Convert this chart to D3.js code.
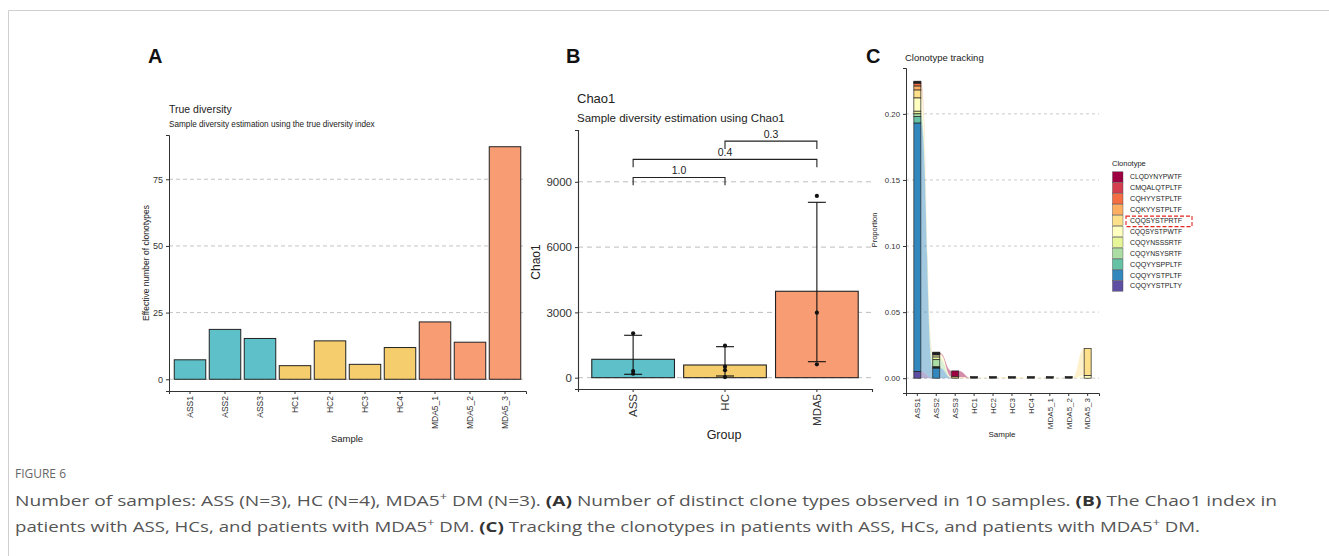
<!DOCTYPE html>
<html><head><meta charset="utf-8">
<script src="https://cdn.jsdelivr.net/npm/d3@7"></script>
<style>
body{margin:0;background:#fff}
svg{display:block}
text{font-family:"Liberation Sans", Arimo, Arial, Helvetica, sans-serif}
</style>
</head><body>
<svg id="c" width="1329" height="556"></svg>
<script>
// ---------------- data ----------------
const samples = ["ASS1","ASS2","ASS3","HC1","HC2","HC3","HC4","MDA5_1","MDA5_2","MDA5_3"];
const sampleGroup = ["ASS","ASS","ASS","HC","HC","HC","HC","MDA5","MDA5","MDA5"];
const trueDiversity = [7.3, 18.7, 15.3, 5.1, 14.4, 5.6, 11.9, 21.5, 13.9, 87.2];
const diversityTicks = [0, 25, 50, 75];

const groups = ["ASS","HC","MDA5"];
const groupColors = ["#5ec1ca","#f6cd6c","#f89c74"];
const chao1Mean = [845, 583, 3970];
const chao1Low = [156, 78, 735];
const chao1High = [1948, 1424, 8058];
const chao1Points = [[2040, 308, 180], [1470, 505, 345, 30], [8350, 2986, 615]];
const chao1Ticks = [0, 3000, 6000, 9000];
const pFrom = ["ASS","ASS","HC"];
const pTo = ["HC","MDA5","MDA5"];
const pLabels = ["1.0","0.4","0.3"];
const pLevel = [9200, 10030, 10870];
const pTip = 360;

const clonotypes = ["CLQDYNYPWTF","CMQALQTPLTF","CQHYYSTPLTF","CQKYYSTPLTF","CQQSYSTPRTF","CQQSYSTPWTF",
  "CQQYNSSSRTF","CQQYNSYSRTF","CQQYYSPPLTF","CQQYYSTPLTF","CQQYYSTPLTY"];
// proportion of each clonotype (rows, legend order) in each sample (columns, samples order)
const proportions = [
  [0.0005, 0.0005, 0.0045, 0, 0, 0, 0, 0, 0, 0],
  [0.0005, 0, 0, 0, 0, 0, 0, 0, 0, 0],
  [0.002, 0, 0, 0, 0, 0, 0, 0, 0, 0],
  [0.003, 0.0005, 0, 0, 0, 0, 0, 0, 0, 0],
  [0.006, 0.0005, 0.001, 0.0004, 0.0004, 0.0008, 0.0004, 0.0004, 0.0004, 0.0205],
  [0.010, 0.0015, 0, 0, 0, 0, 0, 0, 0, 0.002],
  [0.002, 0.002, 0, 0, 0, 0, 0, 0, 0, 0],
  [0.002, 0.006, 0, 0, 0, 0, 0, 0, 0, 0],
  [0.005, 0.0005, 0, 0, 0, 0, 0, 0, 0, 0],
  [0.188, 0.0075, 0, 0, 0, 0, 0, 0, 0, 0],
  [0.005, 0, 0, 0, 0, 0, 0, 0, 0, 0]
];
const proportionTicks = [0, 0.05, 0.10, 0.15, 0.20];
const highlighted = "CQQSYSTPRTF";

// ---------------- drawing ----------------
const svg = d3.select("#c");
const gridCol = "#bdbdbd", axisCol = "#333", txtCol = "#333";

// figure frame
svg.append("line").attr("x1",8.5).attr("x2",1329).attr("y1",10.5).attr("y2",10.5).attr("stroke","#cfcfcf");
svg.append("line").attr("x1",8.5).attr("x2",8.5).attr("y1",10.5).attr("y2",556).attr("stroke","#cfcfcf");

const colorOfGroup = d3.scaleOrdinal().domain(groups).range(groupColors);

function panelLetter(t, x, y){
  svg.append("text").attr("x",x).attr("y",y).attr("font-size",20).attr("font-weight","bold").attr("fill","#111").text(t);
}
function styleAxis(g){
  g.attr("font-family",null);
  g.select(".domain").attr("stroke",axisCol);
  g.selectAll(".tick line").attr("stroke",axisCol);
  g.selectAll(".tick text").attr("fill",txtCol);
}
function rotateLabels(g){
  g.selectAll(".tick text").attr("transform","rotate(-90)").attr("text-anchor","end")
    .attr("x",-5).attr("y",0).attr("dy","0.35em");
}

// ===== Panel A =====
panelLetter("A", 148, 63);
{
  const x = d3.scaleBand().domain(samples).range([169, 526]).paddingInner(0.1).paddingOuter(0.15);
  const y = d3.scaleLinear().domain([-4.4, 91.6]).range([391, 135]);
  const g = svg.append("g");
  g.selectAll("line.grid").data(diversityTicks).join("line")
    .attr("x1",169).attr("x2",526).attr("y1",d=>y(d)).attr("y2",d=>y(d))
    .attr("stroke",gridCol).attr("stroke-dasharray","4,3").attr("stroke-width",0.9);
  g.selectAll("rect").data(samples).join("rect")
    .attr("x",d=>x(d)).attr("width",x.bandwidth())
    .attr("y",(d,i)=>y(trueDiversity[i])).attr("height",(d,i)=>y(0)-y(trueDiversity[i]))
    .attr("fill",(d,i)=>colorOfGroup(sampleGroup[i])).attr("stroke","#222").attr("stroke-width",1);
  const ax = svg.append("g").attr("transform","translate(0,391)")
    .call(d3.axisBottom(x).tickSizeOuter(0).tickSize(3)).attr("font-size",8.5);
  rotateLabels(ax); styleAxis(ax);
  const ay = svg.append("g").attr("transform","translate(169,0)")
    .call(d3.axisLeft(y).tickValues(diversityTicks).tickSizeOuter(0).tickSize(3)).attr("font-size",9);
  styleAxis(ay);
  svg.append("text").attr("x",169).attr("y",113).attr("font-size",10.5).attr("fill","#222").text("True diversity");
  svg.append("text").attr("x",169).attr("y",127).attr("font-size",8.2).attr("fill","#222")
    .text("Sample diversity estimation using the true diversity index");
  svg.append("text").attr("transform","translate(149,263) rotate(-90)").attr("text-anchor","middle")
    .attr("font-size",8.5).attr("fill","#222").text("Effective number of clonotypes");
  svg.append("text").attr("x",347).attr("y",442).attr("text-anchor","middle").attr("font-size",9.5)
    .attr("fill","#222").text("Sample");
}

// ===== Panel B =====
panelLetter("B", 566, 63);
{
  const x = d3.scaleBand().domain(groups).range([578, 872]).paddingInner(0.1).paddingOuter(0.15);
  const y = d3.scaleLinear().domain([-520, 11380]).range([389, 130]);
  const cx = d => x(d) + x.bandwidth()/2;
  const g = svg.append("g");
  g.selectAll("line.grid").data(chao1Ticks).join("line")
    .attr("x1",578).attr("x2",872).attr("y1",d=>y(d)).attr("y2",d=>y(d))
    .attr("stroke",gridCol).attr("stroke-dasharray","5,4").attr("stroke-width",1);
  g.selectAll("rect").data(groups).join("rect")
    .attr("x",d=>x(d)).attr("width",x.bandwidth())
    .attr("y",(d,i)=>y(chao1Mean[i])).attr("height",(d,i)=>y(0)-y(chao1Mean[i]))
    .attr("fill",(d,i)=>groupColors[i]).attr("stroke","#222").attr("stroke-width",1.1);
  // error bars
  groups.forEach((gr,i)=>{
    const c = cx(gr), hw = 9;
    g.append("line").attr("x1",c).attr("x2",c).attr("y1",y(chao1Low[i])).attr("y2",y(chao1High[i]))
      .attr("stroke","#111").attr("stroke-width",1.1);
    [chao1Low[i], chao1High[i]].forEach(v=>{
      g.append("line").attr("x1",c-hw).attr("x2",c+hw).attr("y1",y(v)).attr("y2",y(v))
        .attr("stroke","#111").attr("stroke-width",1.1);
    });
    g.selectAll(null).data(chao1Points[i]).join("circle")
      .attr("cx",c).attr("cy",d=>y(d)).attr("r",2.1).attr("fill","#111");
  });
  // significance brackets
  pLabels.forEach((lab,i)=>{
    const xa = cx(pFrom[i]), xb = cx(pTo[i]), yl = y(pLevel[i]), yt = y(pLevel[i]-pTip);
    g.append("path").attr("d",`M${xa},${yt}V${yl}H${xb}V${yt}`).attr("fill","none")
      .attr("stroke","#222").attr("stroke-width",1.1);
    g.append("text").attr("x",(xa+xb)/2).attr("y",yl-3).attr("text-anchor","middle")
      .attr("font-size",10.5).attr("fill","#222").text(lab);
  });
  const ax = svg.append("g").attr("transform","translate(0,389)")
    .call(d3.axisBottom(x).tickSizeOuter(0).tickSize(3)).attr("font-size",11.5);
  rotateLabels(ax); styleAxis(ax);
  ax.select(".domain").attr("stroke-width",1.1);
  const ay = svg.append("g").attr("transform","translate(578,0)")
    .call(d3.axisLeft(y).tickValues(chao1Ticks).tickFormat(d3.format("d")).tickSizeOuter(0).tickSize(3)).attr("font-size",11.5);
  styleAxis(ay);
  ay.select(".domain").attr("stroke-width",1.1);
  svg.append("text").attr("x",577).attr("y",103).attr("font-size",13).attr("fill","#222").text("Chao1");
  svg.append("text").attr("x",577).attr("y",122).attr("font-size",11.5).attr("fill","#222")
    .text("Sample diversity estimation using Chao1");
  svg.append("text").attr("transform","translate(540,262) rotate(-90)").attr("text-anchor","middle")
    .attr("font-size",12).attr("fill","#222").text("Chao1");
  svg.append("text").attr("x",724).attr("y",439).attr("text-anchor","middle").attr("font-size",12.5)
    .attr("fill","#222").text("Group");
}

// ===== Panel C =====
panelLetter("C", 866, 63);
{
  const x = d3.scaleBand().domain(samples).range([906, 1099]).paddingInner(0.63).paddingOuter(0.415);
  const y = d3.scaleLinear().domain([-0.0112, 0.2347]).range([393, 68]);
  const color = d3.scaleOrdinal().domain(clonotypes).range(d3.schemeSpectral[11]);
  const bw = x.bandwidth();
  // stacked positions: last clonotype at the bottom
  const stackPos = clonotypes.map(()=>samples.map(()=>[0,0]));
  samples.forEach((s,j)=>{
    let acc = 0;
    for (let c = clonotypes.length-1; c >= 0; c--) {
      const v = proportions[c][j];
      stackPos[c][j] = [acc, acc+v];
      acc += v;
    }
  });
  const g = svg.append("g");
  g.selectAll("line.grid").data(proportionTicks).join("line")
    .attr("x1",906).attr("x2",1099).attr("y1",d=>y(d)).attr("y2",d=>y(d))
    .attr("stroke",gridCol).attr("stroke-dasharray","3,3").attr("stroke-width",0.8);
  // flows
  const fg = g.append("g");
  for (let j = 0; j < samples.length-1; j++) {
    const xL = x(samples[j]) + bw, xR = x(samples[j+1]), xm = (xL+xR)/2;
    clonotypes.forEach((cl,c)=>{
      const v0 = proportions[c][j], v1 = proportions[c][j+1];
      if (v0 === 0 && v1 === 0) return;
      const [b0,t0] = stackPos[c][j], [b1,t1] = stackPos[c][j+1];
      const d = `M${xL},${y(t0)}C${xm},${y(t0)} ${xm},${y(t1)} ${xR},${y(t1)}`+
                `L${xR},${y(b1)}C${xm},${y(b1)} ${xm},${y(b0)} ${xL},${y(b0)}Z`;
      fg.append("path").attr("d",d).attr("fill",color(cl)).attr("fill-opacity",0.45);
    });
  }
  // strata
  samples.forEach((s,j)=>{
    clonotypes.forEach((cl,c)=>{
      const v = proportions[c][j];
      if (v === 0) return;
      const [b,t] = stackPos[c][j];
      const h = y(b)-y(t);
      const small = h < 1.2;
      g.append("rect").attr("x",x(s)).attr("width",bw)
        .attr("y",small ? y(b)-1.6 : y(t)).attr("height",small ? 1.6 : h)
        .attr("fill",small ? "#222" : color(cl)).attr("stroke","#222").attr("stroke-width",0.7);
    });
  });
  const ax = svg.append("g").attr("transform","translate(0,393)")
    .call(d3.axisBottom(x).tickSizeOuter(0).tickSize(3)).attr("font-size",8);
  rotateLabels(ax); styleAxis(ax);
  const ay = svg.append("g").attr("transform","translate(906,0)")
    .call(d3.axisLeft(y).tickValues(proportionTicks).tickFormat(d3.format(".2f")).tickSizeOuter(0).tickSize(3)).attr("font-size",7.8);
  styleAxis(ay);
  svg.append("text").attr("x",905).attr("y",61).attr("font-size",9.5).attr("fill","#222").text("Clonotype tracking");
  svg.append("text").attr("transform","translate(877,230) rotate(-90)").attr("text-anchor","middle")
    .attr("font-size",7.5).attr("fill","#222").text("Proportion");
  svg.append("text").attr("x",1002).attr("y",437).attr("text-anchor","middle").attr("font-size",8)
    .attr("fill","#222").text("Sample");
  // legend
  const lg = svg.append("g");
  lg.append("text").attr("x",1112).attr("y",166).attr("font-size",7.5).attr("fill","#222").text("Clonotype");
  clonotypes.forEach((cl,i)=>{
    const cy = 177 + i*10.9;
    lg.append("rect").attr("x",1112.5).attr("y",cy-5.2).attr("width",10.5).attr("height",10.4)
      .attr("fill",color(cl)).attr("stroke","#444").attr("stroke-width",0.4);
    lg.append("text").attr("x",1130).attr("y",cy+2.4).attr("font-size",6.6).attr("fill","#222")
      .attr("textLength",52).attr("lengthAdjust","spacingAndGlyphs").text(cl);
    if (cl === highlighted) {
      lg.append("rect").attr("x",1126).attr("y",cy-4.5).attr("width",66).attr("height",10.5)
        .attr("fill","none").attr("stroke","#e3261f").attr("stroke-width",1.1).attr("stroke-dasharray","4,2");
    }
  });
}

// ===== Caption =====
{
  const capFont = '"Liberation Sans Narrow", "Open Sans", "Liberation Sans", sans-serif';
  svg.append("text").attr("x",15).attr("y",478).attr("font-size",12).attr("fill","#666")
    .style("font-family",capFont).attr("textLength",51).attr("lengthAdjust","spacingAndGlyphs").text("FIGURE 6");
  function capLine(y, parts, len){
    const t = svg.append("text").attr("x",15).attr("y",y).attr("font-size",15).attr("fill","#555")
      .style("font-family",capFont).attr("textLength",len).attr("lengthAdjust","spacingAndGlyphs");
    parts.forEach(p=>{
      const ts = t.append("tspan").text(p.t);
      if (p.b) ts.attr("font-weight","bold").attr("fill","#333");
      if (p.sup) ts.attr("font-size",10).attr("dy",-6);
      if (p.down) ts.attr("dy",6);
    });
  }
  capLine(506, [
    {t:"Number of samples: ASS (N=3), HC (N=4), MDA5"},{t:"+",sup:1},{t:" DM (N=3). ",down:1},
    {t:"(A)",b:1},{t:" Number of distinct clone types observed in 10 samples. "},
    {t:"(B)",b:1},{t:" The Chao1 index in"}], 1262);
  capLine(532, [
    {t:"patients with ASS, HCs, and patients with MDA5"},{t:"+",sup:1},{t:" DM. ",down:1},
    {t:"(C)",b:1},{t:" Tracking the clonotypes in patients with ASS, HCs, and patients with MDA5"},
    {t:"+",sup:1},{t:" DM.",down:1}], 1185);
}
</script>
</body></html>
